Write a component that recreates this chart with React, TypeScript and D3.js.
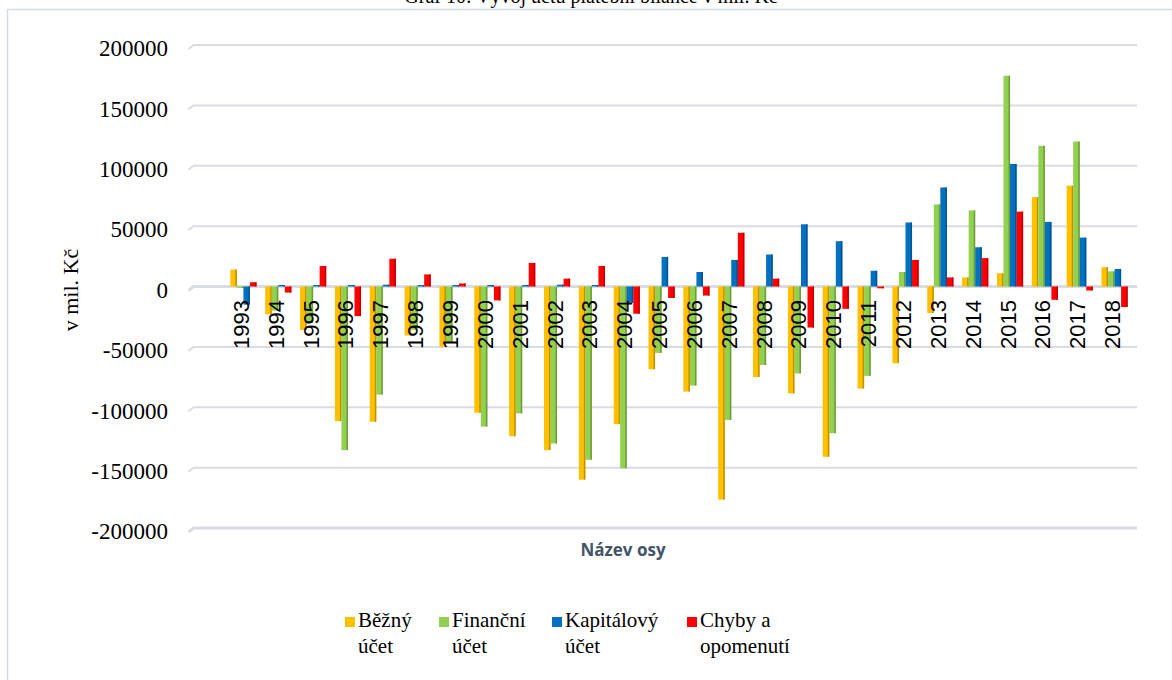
import { useEffect, useRef } from 'react';
import * as d3 from 'd3';

// Vývoj účtu platební bilance (mil. Kč)
const years = [
  '1993', '1994', '1995', '1996', '1997', '1998', '1999', '2000', '2001', '2002', '2003', '2004', '2005',
  '2006', '2007', '2008', '2009', '2010', '2011', '2012', '2013', '2014', '2015', '2016', '2017', '2018',
];

const bezny = [
  14000, -23000, -36000, -111500, -112000, -40500, -50000, -104500, -124000, -135500, -160000, -114000, -68500,
  -87000, -176500, -75000, -88500, -141000, -84500, -63500, -22000, 7500, 11000, 74000, 83500, 16000,
];

const financni = [
  -500, -20000, -30000, -135500, -89500, -36000, -46000, -116000, -105000, -130000, -143500, -150500, -55000,
  -82000, -110500, -65000, -72000, -121500, -74000, 12000, 68000, 63000, 174500, 116500, 120000, 12500,
];

const kapitalovy = [
  -15000, 500, 1000, 1000, 1500, 500, 500, 500, 1000, 1500, 1000, -13500, 24500,
  12000, 22000, 26500, 51500, 37500, 13000, 53000, 82000, 32500, 101500, 53500, 40500, 14500,
];

const chyby = [
  3500, -5000, 17000, -24500, 23000, 10000, 2500, -11500, 19500, 6500, 17000, -22500, -9500,
  -7500, 44500, 6500, -34000, -18500, -1500, 22000, 7500, 23500, 62000, -11000, -3300, -17000,
];

const seriesNames = [['Běžný', 'účet'], ['Finanční', 'účet'], ['Kapitálový', 'účet'], ['Chyby a', 'opomenutí']];
const seriesColors = ['#ffc000', '#92d050', '#0070c0', '#ff0000'];
const yTicks = [200000, 150000, 100000, 50000, 0, -50000, -100000, -150000, -200000];

export default function App() {
  const svgRef = useRef<SVGSVGElement>(null);

  useEffect(() => {
    if (!svgRef.current) return;
    const svg = d3.select(svgRef.current);
    svg.selectAll('*').remove();

    const width = 1172;
    const height = 680;
    const serif = 'Liberation Serif';
    const sans = 'Liberation Sans';

    svg.attr('width', width).attr('height', height);

    // Chart frame
    svg.append('rect')
      .attr('x', 7.5).attr('y', 9.5)
      .attr('width', 1300).attr('height', 800)
      .attr('fill', '#fff')
      .attr('stroke', '#d6dce5')
      .attr('stroke-width', 1.5);

    // Title (cut by the top edge, as in the source image)
    svg.append('text')
      .attr('x', 591).attr('y', 3)
      .attr('text-anchor', 'middle')
      .attr('font-family', serif)
      .attr('font-size', 20)
      .text('Graf 10: Vývoj účtu platební bilance v mil. Kč');

    const yScale = d3.scaleLinear().domain([-200000, 200000]).range([528, 45]);
    const xScale = d3.scaleBand<string>().domain(years).range([226, 1132]).paddingInner(0.25).paddingOuter(0.125);
    const inner = d3.scaleBand<number>().domain([0, 1, 2, 3]).range([0, xScale.bandwidth()]);

    // Grid lines with a slanted 3D edge on the left
    yTicks.forEach(t => {
      const y = yScale(t);
      svg.append('path')
        .attr('d', `M188.5,${y + 4} L193.5,${y} L1137,${y}`)
        .attr('fill', 'none')
        .attr('stroke', '#d9dce3')
        .attr('stroke-width', t === 0 || t === -200000 ? 3 : 2);

      svg.append('text')
        .attr('x', 168).attr('y', y + 6)
        .attr('text-anchor', 'end')
        .attr('dominant-baseline', 'middle')
        .attr('font-family', serif)
        .attr('font-size', 23)
        .text(String(t));
    });

    // Bars
    const allSeries = [bezny, financni, kapitalovy, chyby];
    const y0 = yScale(0);
    allSeries.forEach((values, si) => {
      const color = seriesColors[si];
      const dark = d3.color(color)!.darker(0.8).formatHex();
      values.forEach((v, i) => {
        const x = (xScale(years[i]) ?? 0) + (inner(si) ?? 0);
        const w = inner.bandwidth();
        const yv = yScale(v);
        const h = Math.max(1.5, Math.abs(yv - y0));
        const top = v >= 0 ? y0 - h : y0;
        svg.append('rect')
          .attr('x', x).attr('y', top)
          .attr('width', w).attr('height', h)
          .attr('fill', color);
        svg.append('rect')
          .attr('x', x + w - 1.5).attr('y', top)
          .attr('width', 1.5).attr('height', h)
          .attr('fill', dark);
      });
    });

    // Category labels
    years.forEach(yr => {
      const cx = (xScale(yr) ?? 0) + xScale.bandwidth() / 2 - 2;
      svg.append('text')
        .attr('transform', `translate(${cx},300) rotate(-90)`)
        .attr('text-anchor', 'end')
        .attr('dominant-baseline', 'central')
        .attr('font-family', sans)
        .attr('font-size', 22)
        .attr('fill', '#000')
        .text(yr);
    });

    // Axis titles
    svg.append('text')
      .attr('transform', 'translate(70,290) rotate(-90)')
      .attr('text-anchor', 'middle')
      .attr('dominant-baseline', 'central')
      .attr('font-family', serif)
      .attr('font-size', 22)
      .text('v mil. Kč');

    svg.append('text')
      .attr('x', 623).attr('y', 551)
      .attr('text-anchor', 'middle')
      .attr('dominant-baseline', 'middle')
      .attr('font-family', 'Open Sans')
      .attr('font-size', 17)
      .attr('font-weight', 700)
      .attr('fill', '#44546a')
      .text('Název osy');

    // Legend
    const legendX = [345, 439, 552, 687];
    seriesNames.forEach((lines, i) => {
      const lg = svg.append('g').attr('transform', `translate(${legendX[i]},622)`);
      lg.append('rect')
        .attr('x', 0).attr('y', -5)
        .attr('width', 10).attr('height', 10)
        .attr('fill', seriesColors[i]);
      lines.forEach((ln, j) => {
        lg.append('text')
          .attr('x', 13).attr('y', j * 26)
          .attr('dominant-baseline', 'middle')
          .attr('font-family', serif)
          .attr('font-size', 21)
          .text(ln);
      });
    });
  }, []);

  return (
    <svg ref={svgRef} style={{ position: 'absolute', left: 0, top: 0, display: 'block' }} />
  );
}
